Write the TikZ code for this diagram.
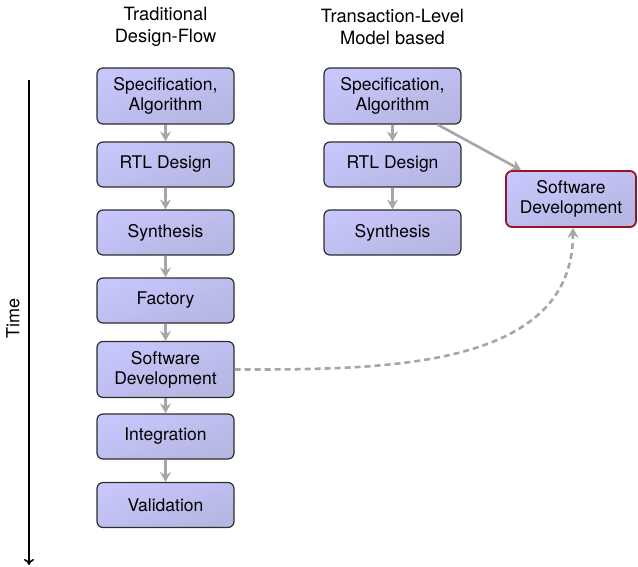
\documentclass[tikz,border=0pt]{standalone}
\usepackage{fontspec}
\setmainfont{TeX Gyre Heros}
\usetikzlibrary{arrows.meta}

\definecolor{boxtop}{RGB}{198,198,252}
\definecolor{boxbot}{RGB}{182,182,226}
\definecolor{boxline}{RGB}{45,45,45}
\definecolor{flowgray}{RGB}{166,166,166}
\definecolor{tlmred}{RGB}{150,20,35}

\tikzset{
  stagebox/.style={draw=boxline, line width=1.2pt, rounded corners=6pt,
    top color=boxtop, bottom color=boxbot, shading angle=20,
    minimum width=137pt, minimum height=45pt, inner sep=2pt,
    align=center, font=\fontsize{17.5}{20}\selectfont},
  tallbox/.style={stagebox, minimum height=56pt},
  tlmbox/.style={tallbox, draw=tlmred, line width=1.8pt, minimum width=130pt},
  flow/.style={draw=flowgray, line width=2.6pt,
    -{Stealth[length=10pt,width=11pt,inset=3.5pt]}},
  lateflow/.style={flow, dash pattern=on 6pt off 4pt},
  coltitle/.style={align=center, font=\fontsize{18.3}{22}\selectfont},
}

\begin{document}
\begin{tikzpicture}[x=1pt,y=-1pt]
  \useasboundingbox (0,0) rectangle (638,566);

  % column headings
  \node[coltitle] (htrad) at (165.5,27) {Traditional\\Design-Flow};
  \node[coltitle] (htlm)  at (392.5,27) {Transaction-Level\\Model based};

  % time axis
  \coordinate (tstart) at (29,80);
  \coordinate (tend)   at (29,565);
  \draw[line width=1.6pt, -{To[length=6pt,width=10pt]}] (tstart) -- (tend);
  \node[rotate=90, font=\fontsize{18}{21}\selectfont] (tlabel) at (13,318) {Time};

  % traditional flow
  \node[tallbox]  (lspec)  at (165.5,96)    {Specification,\\Algorithm};
  \node[stagebox] (lrtl)   at (165.5,164.5) {RTL Design};
  \node[stagebox] (lsyn)   at (165.5,232.5) {Synthesis};
  \node[stagebox] (lfab)   at (165.5,300.5) {Factory};
  \node[tallbox]  (lsw)    at (165.5,369.5) {Software\\Development};
  \node[stagebox] (lint)   at (165.5,436.5) {Integration};
  \node[stagebox] (lval)   at (165.5,505)   {Validation};

  \draw[flow] (lspec) -- (lrtl);
  \draw[flow] (lrtl)  -- (lsyn);
  \draw[flow] (lsyn)  -- (lfab);
  \draw[flow] (lfab)  -- (lsw);
  \draw[flow] (lsw)   -- (lint);
  \draw[flow] (lint)  -- (lval);

  % TLM-based flow
  \node[tallbox]  (rspec) at (392.5,96)    {Specification,\\Algorithm};
  \node[stagebox] (rrtl)  at (392.5,164.5) {RTL Design};
  \node[stagebox] (rsyn)  at (392.5,232.5) {Synthesis};
  \node[tlmbox]   (rsw)   at (571,199)     {Software\\Development};

  \draw[flow] (rspec) -- (rrtl);
  \draw[flow] (rrtl)  -- (rsyn);
  \draw[flow] ([xshift=-24pt]rspec.south east) -- ([xshift=16pt]rsw.north west);

  % software moves earlier
  \draw[lateflow] (lsw.east) to[out=0,in=-90] ([xshift=2pt]rsw.south);
\end{tikzpicture}
\end{document}
